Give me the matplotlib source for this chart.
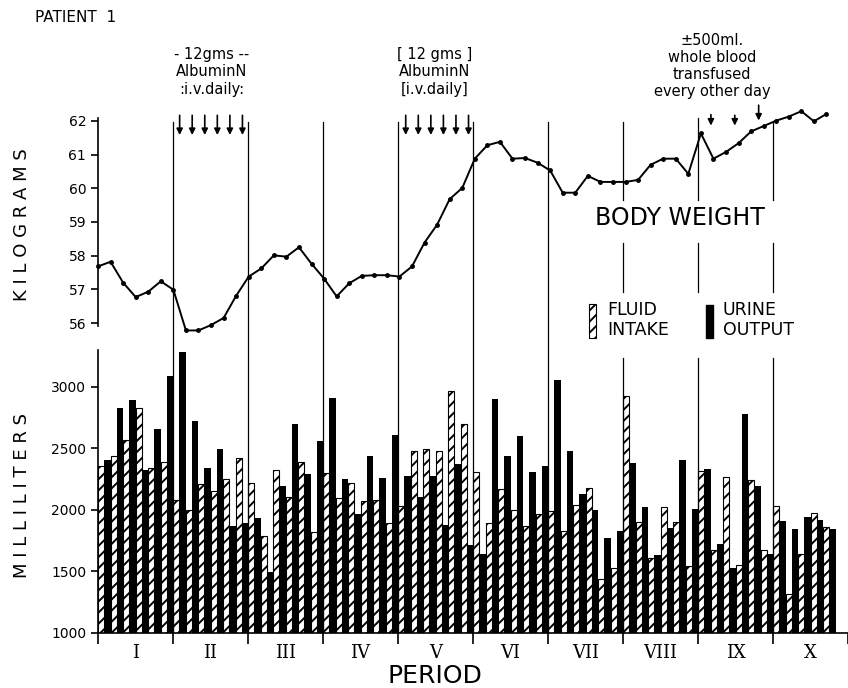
import numpy as np
import matplotlib
matplotlib.use("Agg")
import matplotlib.pyplot as plt
from matplotlib.patches import Rectangle
from matplotlib.transforms import blended_transform_factory

# body weight in kg, one reading per day
weight = [57.68, 57.82, 57.20, 56.77, 56.93, 57.24, 56.99, 55.78, 55.78, 55.94,
          56.15, 56.81, 57.38, 57.62, 58.01, 57.97, 58.25, 57.76, 57.32, 56.79,
          57.18, 57.40, 57.42, 57.42, 57.38, 57.68, 58.39, 58.92, 59.68, 60.01,
          60.88, 61.28, 61.38, 60.88, 60.90, 60.76, 60.53, 59.87, 59.87, 60.37,
          60.19, 60.19, 60.19, 60.25, 60.70, 60.88, 60.88, 60.43, 61.63, 60.88,
          61.08, 61.34, 61.69, 61.85, 62.01, 62.13, 62.29, 61.99, 62.21]

# daily fluid intake (hatched) and urine output (black), ml
intake = [2360, 2441, 2572, 2832, 2339, 2393, 2084, 2003, 2214, 2154,
          2252, 2425, 2220, 1786, 2328, 2106, 2388, 1818, 2301, 2100,
          2220, 2073, 2084, 1894, 2030, 2480, 2496, 2480, 2967, 2697,
          2311, 1894, 2171, 2003, 1867, 1965, 1992, 1829, 2041, 2176,
          1439, 1531, 2929, 1905, 1612, 2024, 1900, 1542, 2317, 1677,
          2268, 1553, 2247, 1677, 2030, 1320, 1640, 1976, 1862]
urine = [2406, 2832, 2891, 2325, 2659, 3087, 3287, 2724, 2339, 2496,
         1873, 1894, 1937, 1493, 2198, 2702, 2296, 2561, 2913, 2252,
         1970, 2441, 2263, 2610, 2279, 2106, 2274, 1878, 2371, 1715,
         1640, 2902, 2436, 2604, 2306, 2360, 3059, 2480, 2133, 2003,
         1770, 1829, 2382, 2024, 1634, 1856, 2404, 2008, 2333, 1726,
         1531, 2783, 2198, 1645, 1911, 1846, 1943, 1916, 1846]

periods = ["I", "II", "III", "IV", "V", "VI", "VII", "VIII", "IX", "X"]
days_per_period = 6

# days on which treatment was given (arrows)
albumin_1 = [6.5, 7.5, 8.5, 9.5, 10.5, 11.5]
albumin_2 = [24.5, 25.5, 26.5, 27.5, 28.5, 29.5]
transfusion = [48.8, 50.7, 52.6]

plt.rcParams['hatch.linewidth'] = 1.4
plt.rcParams['font.family'] = 'DejaVu Sans'

W, H = 848, 688
fig = plt.figure(figsize=(W / 100, H / 100), dpi=100)

def fx(px):
    return px / W

def fy(py):
    return 1 - py / H

day_px = 12.56
xmax = 750 / day_px

ax_w = fig.add_axes([fx(98), fy(336.5), fx(750), 229 / H])
ax_b = fig.add_axes([fx(98), fy(633), fx(750), 283 / H])

# bars
days = np.arange(len(intake))
ax_b.bar(days, intake, width=0.5, align='edge', facecolor='white',
         edgecolor='black', hatch='///', linewidth=0.8)
ax_b.bar(days + 0.5, urine, width=0.5, align='edge', color='black')
ax_b.set_xlim(0, xmax)
ax_b.set_ylim(1000, 3300)
ax_b.set_yticks([1000, 1500, 2000, 2500, 3000])
ax_b.tick_params(axis='y', direction='out', length=5, width=1.2, labelsize=10)
ax_b.set_xticks(np.arange(0, 61, days_per_period))
ax_b.set_xticklabels([])
ax_b.set_xticks(np.arange(days_per_period / 2, 60, days_per_period), minor=True)
ax_b.set_xticklabels(periods, minor=True, fontfamily='DejaVu Serif', fontsize=13)
ax_b.tick_params(axis='x', which='major', direction='out', length=8, width=1.2)
ax_b.tick_params(axis='x', which='minor', length=0, pad=8)
for s in ['top', 'right']:
    ax_b.spines[s].set_visible(False)
ax_b.spines['left'].set_linewidth(1.2)
ax_b.spines['bottom'].set_linewidth(1.2)

# body weight
ax_w.plot(np.arange(len(weight)), weight, '-o', color='black', ms=2.5,
          lw=1.4, clip_on=False)
ax_w.set_xlim(0, xmax)
ax_w.set_ylim(55.6, 62.4)
ax_w.set_yticks(range(56, 63))
ax_w.tick_params(axis='y', direction='out', length=5, width=1.2, labelsize=10)
ax_w.set_xticks([])
for s in ['top', 'right', 'bottom']:
    ax_w.spines[s].set_visible(False)
ax_w.spines['left'].set_bounds(55.9, 62.1)
ax_w.spines['left'].set_linewidth(1.2)
ax_w.patch.set_alpha(0)

# treatment arrows
for d in albumin_1 + albumin_2:
    ax_w.annotate('', xy=(d, 61.5), xytext=(d, 62.25),
                  arrowprops=dict(arrowstyle='-|>', color='black', lw=1.2,
                                  mutation_scale=9),
                  annotation_clip=False)
for d, top, tip in zip(transfusion, [62.27, 62.25, 62.55], [61.78, 61.78, 61.93]):
    ax_w.annotate('', xy=(d, tip), xytext=(d, top),
                  arrowprops=dict(arrowstyle='-|>', color='black', lw=1.2,
                                  mutation_scale=9),
                  annotation_clip=False)

# period boundary lines across both panels
trans = blended_transform_factory(ax_b.transData, fig.transFigure)
for b in range(days_per_period, 60, days_per_period):
    if b < 42:
        segs = [(122, 633)]
    else:
        segs = [(118 if b == 48 else 122, 200), (243, 292), (358, 633)]
    for y0, y1 in segs:
        ax_b.plot([b, b], [fy(y0), fy(y1)], transform=trans, clip_on=False,
                  color='black', lw=0.9)

# legend
fig.add_artist(Rectangle((fx(589), fy(338)), fx(7), 34 / H, transform=fig.transFigure,
                         facecolor='white', edgecolor='black', hatch='///', lw=0.8))
fig.add_artist(Rectangle((fx(706), fy(338)), fx(7), 33 / H, transform=fig.transFigure,
                         facecolor='black', edgecolor='black'))
fig.text(fx(607), fy(320), "FLUID\nINTAKE", ha='left', va='center', fontsize=12.5,
         linespacing=1.2)
fig.text(fx(723), fy(320), "URINE\nOUTPUT", ha='left', va='center', fontsize=12.5,
         linespacing=1.2)

# titles and labels
fig.text(fx(35), fy(17), "PATIENT  1", ha='left', va='center', fontsize=11)
fig.text(fx(680), fy(218), "BODY WEIGHT", ha='center', va='center', fontsize=17)
fig.text(fx(22), fy(225), " ".join("KILOGRAMS"), rotation=90, ha='center',
         va='center', fontsize=13)
fig.text(fx(22), fy(495), " ".join("MILLILITERS"), rotation=90, ha='center',
         va='center', fontsize=13)
fig.text(fx(435), fy(676), "PERIOD", ha='center', va='center', fontsize=18)

fig.text(fx(212), fy(72), "- 12gms --\nAlbuminN\n:i.v.daily:", ha='center',
         va='center', fontsize=10.5, linespacing=1.2)
fig.text(fx(435), fy(72), "[ 12 gms ]\nAlbuminN\n[i.v.daily]", ha='center',
         va='center', fontsize=10.5, linespacing=1.2)
fig.text(fx(712), fy(66), "\u00b1500ml.\nwhole blood\ntransfused\nevery other day",
         ha='center', va='center', fontsize=10.5, linespacing=1.15)

fig.savefig("out.png", dpi=100)
